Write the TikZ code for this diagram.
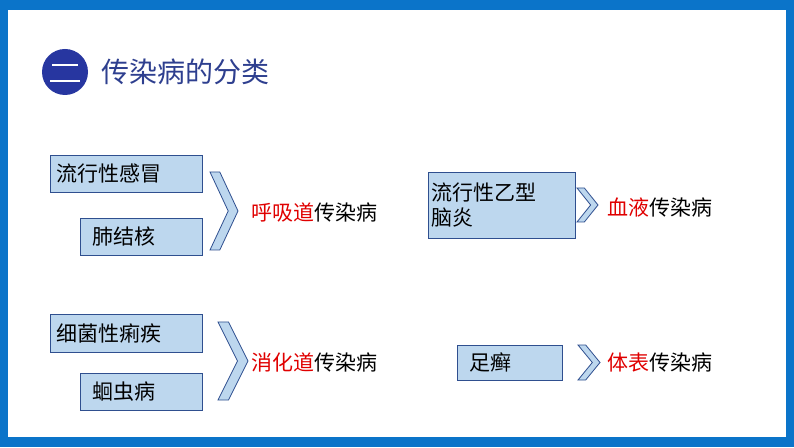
\documentclass[tikz,border=0pt]{standalone}
\usepackage{fontspec}
\setmainfont{Noto Sans CJK SC}
\definecolor{frameblue}{HTML}{0B74C9}
\definecolor{boxfill}{HTML}{BDD7EE}
\definecolor{boxline}{HTML}{2F4F8F}
\definecolor{titleblue}{HTML}{2E3F8F}
\definecolor{redtext}{HTML}{E00000}
\tikzset{
  disease/.style={draw=boxline, fill=boxfill, line width=0.8pt, inner xsep=6pt, inner ysep=0pt, anchor=north west, font=\fontsize{21}{25}\selectfont, align=left},
  kind/.style={anchor=west, font=\fontsize{21}{25}\selectfont},
  chev/.style={draw=boxline, fill=boxfill, line width=0.8pt}
}
\newcommand{\chevron}[4]{% x, ytop, width, height
  \draw[chev] (#1,#2) -- ++(0.35*#3,0) -- ++(0.65*#3,-#4/2) -- ++(-0.65*#3,-#4/2) -- ++(-0.35*#3,0) -- ++(0.65*#3,#4/2) -- cycle;}
\begin{document}
\begin{tikzpicture}[x=1pt,y=1pt]
  \useasboundingbox (0,0) rectangle (794,447);
  % frame
  \fill[frameblue] (0,0) rectangle (794,447);
  \fill[white] (8,10) rectangle (786,437);
  % title
  \node[circle, fill=titleblue!85!blue, minimum size=46pt, inner sep=0pt] (badge) at (65,375) {};
  \draw[white, line width=2pt] (52,382) -- (78,382) (50,366) -- (80,366);
  \node[anchor=west, text=titleblue, font=\fontsize{28}{32}\selectfont] (title) at (98,375) {传染病的分类};
  % respiratory
  \node[disease, text width=140pt, minimum height=37pt] (flu) at (50,292) {流行性感冒};
  \node[disease, text width=98pt, minimum height=37pt, inner xsep=12pt] (tb) at (80,229) {肺结核};
  \chevron{210}{275}{28}{78}
  \node[kind] (resp) at (248,235) {\textcolor{redtext}{呼吸道}传染病};
  % blood
  \node[disease, text width=141pt, minimum height=66pt, inner xsep=3pt] (jeb) at (428,275) {流行性乙型\\脑炎};
  \chevron{577}{259}{21}{34}
  \node[kind] (blood) at (604,240) {\textcolor{redtext}{血液}传染病};
  % digestive
  \node[disease, text width=140pt, minimum height=38pt] (dys) at (50,133) {细菌性痢疾};
  \node[disease, text width=98pt, minimum height=37pt, inner xsep=12pt] (asc) at (80,74) {蛔虫病};
  \chevron{218}{125}{30}{78}
  \node[kind] (dig) at (248,85) {\textcolor{redtext}{消化道}传染病};
  % body surface
  \node[disease, text width=81pt, minimum height=35pt, inner xsep=12pt] (tinea) at (457,102) {足癣};
  \chevron{578}{102}{22}{35}
  \node[kind] (skin) at (604,85) {\textcolor{redtext}{体表}传染病};
\end{tikzpicture}
\end{document}
